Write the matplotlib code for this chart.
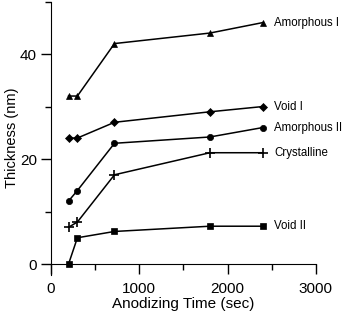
import matplotlib
matplotlib.use("Agg")
import matplotlib.pyplot as plt
from matplotlib.ticker import MultipleLocator

plt.rcParams['font.family'] = ['Liberation Sans', 'DejaVu Sans']

# ----------------- Data -----------------
time = [200, 300, 720, 1800, 2400]
amorphous_1 = [32, 32, 42, 44, 46]
void_1 = [24, 24, 27, 29, 30]
amorphous_2 = [12, 14, 23, 24.2, 26]
crystalline = [7, 8, 17, 21.2, 21.2]
void_2 = [0, 5, 6.2, 7.2, 7.2]

series = [
    ("Amorphous I", amorphous_1, '^', 5),
    ("Void I", void_1, 'D', 4),
    ("Amorphous II", amorphous_2, 'o', 4.5),
    ("Crystalline", crystalline, '+', 7),
    ("Void II", void_2, 's', 4.5),
]

# ----------------- Plot -----------------
fig = plt.figure(figsize=(3.51, 3.13), dpi=100)
ax = fig.add_axes([0.145, 0.123, 0.755, 0.872])

for name, vals, mk, ms in series:
    ax.plot(time, vals, color='black', lw=1.1, marker=mk, markersize=ms,
            markeredgewidth=1.2 if mk == '+' else 0.5)
    ax.text(2530, vals[-1], name, fontsize=8.3, va='center', ha='left')

ax.set_xlim(0, 3000)
ax.set_ylim(-2, 50)
ax.spines['top'].set_visible(False)
ax.spines['right'].set_visible(False)
ax.spines['bottom'].set_position(('data', 0))
ax.spines['bottom'].set_bounds(0, 3000)

ax.xaxis.set_major_locator(MultipleLocator(1000))
ax.xaxis.set_minor_locator(MultipleLocator(500))
ax.yaxis.set_major_locator(MultipleLocator(20))
ax.yaxis.set_minor_locator(MultipleLocator(10))
ax.tick_params(which='major', direction='out', length=7, width=1, labelsize=11, pad=3)
ax.tick_params(which='minor', direction='out', length=4, width=1)
ax.tick_params(axis='x', which='major', pad=6)

ax.set_xlabel("Anodizing Time (sec)", fontsize=11, labelpad=1)
ax.set_ylabel("Thickness (nm)", fontsize=10.5, labelpad=1)

fig.savefig("out.png", dpi=100)
